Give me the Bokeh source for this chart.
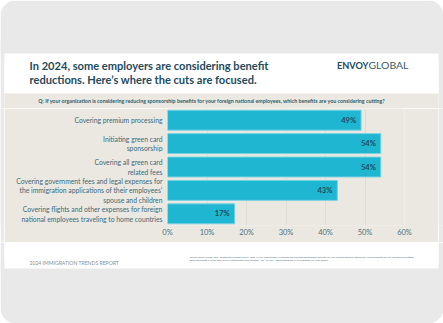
from bokeh.plotting import figure
from bokeh.layouts import column, row
from bokeh.models import (ColumnDataSource, FactorRange, Range1d,
                          PrintfTickFormatter, FixedTicker)
from bokeh.core.properties import value
from bokeh.embed import file_html
from bokeh.resources import INLINE

# ---------------- data ----------------
categories = [
    "Covering premium processing",
    "Initiating green card\nsponsorship",
    "Covering all green card\nrelated fees",
    "Covering government fees and legal expenses for\nthe immigration applications of their employees\u2019\nspouse and children",
    "Covering flights and other expenses for foreign\nnational employees traveling to home countries",
]
values = [49, 54, 54, 43, 17]
value_labels = ["49%", "54%", "54%", "43%", "17%"]
x_ticks = [0, 10, 20, 30, 40, 50, 60]

title_lines = ["In 2024, some employers are considering benefit",
               "reductions. Here\u2019s where the cuts are focused."]
question = ("Q: If your organization is considering reducing sponsorship benefits for your "
            "foreign national employees, which benefits are you considering cutting?")
footer = "2024 IMMIGRATION TRENDS REPORT"
footnotes = [
    "Source: Envoy Global 2024 Immigration Trends Survey. Q35: If your organization is considering reducing sponsorship benefits for your foreign national employees, which benefits are you considering cutting?",
    "Data represents % of 96 total survey respondents who selected \u201cYes\u201d for Q34, representing the % of responses for each option.",
]

# ---------------- style constants ----------------
W = 443
FONT = "Lato"
BAR = "#1eb6d0"
DARK = "#1f4b5c"
LABEL = "#3b6b7a"
BEIGE = "#ebe8e1"
GRAY = "#e9e9e9"
WHITE = "#ffffff"

def panel(width, height, bg):
    f = figure(width=width, height=height, output_backend="svg", toolbar_location=None,
               x_range=Range1d(0, width), y_range=Range1d(height, 0),
               x_axis_type=None, y_axis_type=None, min_border=0)
    f.outline_line_color = None
    f.background_fill_color = bg
    f.border_fill_color = bg
    f.grid.visible = False
    return f

def block(f, x0, x1, y0, y1, color, radius=None):
    r = f.quad(left=[x0], right=[x1], top=[y0], bottom=[y1], fill_color=color, line_color=None)
    if radius is not None:
        try:
            r.glyph.border_radius = radius
        except Exception:
            pass
    return r

def txt(f, x, y, t, size, color, style="normal", align="left"):
    f.text(x=[x], y=[y], text=[t], text_font=value(FONT), text_font_size=size,
           text_font_style=style, text_color=color, text_align=align, text_baseline="middle")

# ---------------- header (y 0..108) ----------------
HH = 108
head = panel(W, HH, WHITE)
block(head, 0, W, 0, 60, GRAY, radius=(15, 15, 0, 0))
block(head, 0, 4, 40, HH, GRAY)
block(head, 438, W, 40, HH, GRAY)
block(head, 4, 438, 53, 93, WHITE)
block(head, 4, 438, 93, HH, BEIGE)
txt(head, 29, 64.5, title_lines[0], "11.1px", DARK, "bold")
txt(head, 29, 78.5, title_lines[1], "11.1px", DARK, "bold")
txt(head, 368, 64.5, "ENVOY", "9.2px", "#244b5c", "bold", "right")
txt(head, 368, 64.5, "GLOBAL", "10.4px", "#3a5a68")
txt(head, 211.5, 100.5, question, "5.3px", "#2f5d6c", "bold", "center")

# ---------------- chart (y 108..242) ----------------
CH = 134
src = ColumnDataSource(dict(cat=categories, val=values, lab=value_labels))
p = figure(width=434, height=CH, output_backend="svg", toolbar_location=None,
           x_range=Range1d(0, 60),
           y_range=FactorRange(factors=categories[::-1], range_padding=0),
           min_border_left=163, min_border_right=34, min_border_top=0, min_border_bottom=17)
p.outline_line_color = None
p.background_fill_color = BEIGE
p.border_fill_color = BEIGE

p.hbar(y="cat", right="val", left=0, height=0.85, source=src,
       fill_color=BAR, line_color="#74d2e2", line_width=1)
p.text(x="val", y="cat", text="lab", source=src, x_offset=-5,
       text_align="right", text_baseline="middle", text_font=value(FONT),
       text_font_style="bold", text_font_size="7.5px", text_color=DARK)

p.xaxis.ticker = FixedTicker(ticks=x_ticks)
p.xaxis.formatter = PrintfTickFormatter(format="%d%%")
p.xaxis.axis_line_color = None
p.xaxis.major_tick_line_color = None
p.xaxis.minor_tick_line_color = None
p.xaxis.major_tick_out = 0
p.xaxis.major_tick_in = 0
p.xaxis.major_label_standoff = 2
p.xaxis.major_label_text_font = FONT
p.xaxis.major_label_text_font_size = "7.5px"
p.xaxis.major_label_text_color = "#4a7382"

p.yaxis.axis_line_color = None
p.yaxis.major_tick_line_color = None
p.yaxis.minor_tick_line_color = None
p.yaxis.major_tick_out = 0
p.yaxis.major_tick_in = 0
p.yaxis.major_label_standoff = 5
p.yaxis.major_label_text_font = FONT
p.yaxis.major_label_text_font_size = "6.8px"
p.yaxis.major_label_text_color = LABEL

p.xgrid.grid_line_color = "#dcd9d1"
p.xgrid.grid_line_width = 0.8
p.xgrid.ticker = FixedTicker(ticks=x_ticks)
p.ygrid.grid_line_color = None

left_strip = panel(4, CH, GRAY)
right_strip = panel(5, CH, GRAY)

# ---------------- footer (y 242..323) ----------------
FH = 81
foot = panel(W, FH, WHITE)
block(foot, 0, W, 20, FH, GRAY, radius=(0, 0, 15, 15))
block(foot, 0, 4, 0, 30, GRAY)
block(foot, 438, W, 0, 30, GRAY)
block(foot, 4, 438, 0, 26, WHITE)
txt(foot, 29, 20, footer, "5.1px", "#7e939b")
txt(foot, 189, 14.5, footnotes[0], "2.5px", "#55707a")
txt(foot, 189, 18, footnotes[1], "2.5px", "#55707a")

layout = column(head, row(left_strip, p, right_strip, spacing=0), foot, spacing=0)
open("out.html", "w").write(file_html(layout, INLINE))
